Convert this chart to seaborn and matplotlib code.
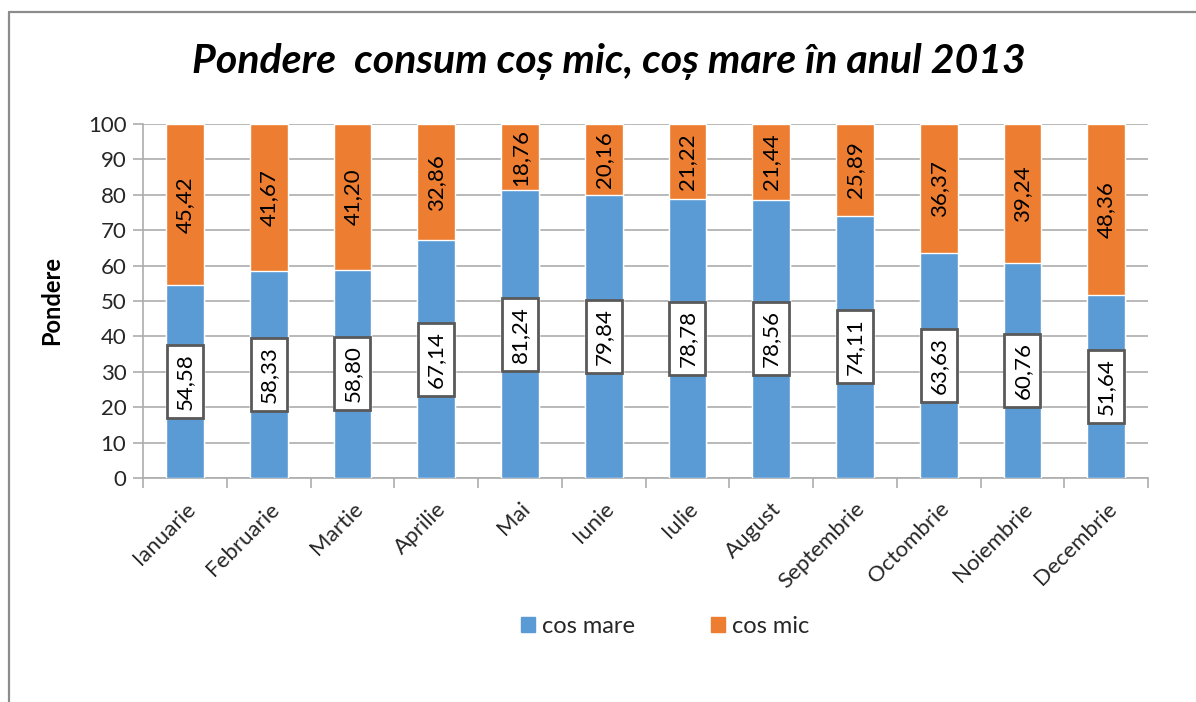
import matplotlib
matplotlib.use("Agg")
import matplotlib.pyplot as plt
from matplotlib.lines import Line2D
from matplotlib.patches import Patch
import seaborn as sns
import pandas as pd

months = ["Ianuarie", "Februarie", "Martie", "Aprilie", "Mai", "Iunie",
          "Iulie", "August", "Septembrie", "Octombrie", "Noiembrie", "Decembrie"]
cos_mare = [54.58, 58.33, 58.80, 67.14, 81.24, 79.84, 78.78, 78.56, 74.11, 63.63, 60.76, 51.64]
cos_mic = [45.42, 41.67, 41.20, 32.86, 18.76, 20.16, 21.22, 21.44, 25.89, 36.37, 39.24, 48.36]
y_ticks = [0, 10, 20, 30, 40, 50, 60, 70, 80, 90, 100]

BLUE = "#5B9BD5"
ORANGE = "#ED7D31"
GRID = "#ADADAD"
TXT = "#262626"
FS = 16

df = pd.DataFrame({"luna": months, "cos mare": cos_mare, "cos mic": cos_mic})
df["total"] = df["cos mare"] + df["cos mic"]

sns.set_theme(style="white")
plt.rcParams["font.family"] = ["Lato", "DejaVu Sans"]

fig = plt.figure(figsize=(11.96, 7.02), dpi=100)
ax = fig.add_axes([0.1196, 0.3191, 0.8403, 0.5043])

# stacked bars: full height in orange, lower part in blue
sns.barplot(data=df, x="luna", y="total", color=ORANGE, width=0.45,
            saturation=1, ax=ax, zorder=2)
sns.barplot(data=df, x="luna", y="cos mare", color=BLUE, width=0.45,
            saturation=1, ax=ax, zorder=3)

ax.set_ylim(0, 100)
ax.set_xlim(-0.5, len(months) - 0.5)
ax.set_yticks(y_ticks)
ax.set_yticklabels([str(t) for t in y_ticks], fontsize=FS, color=TXT)
ax.yaxis.grid(True, color=GRID, linewidth=1.2, zorder=0)
ax.set_axisbelow(True)

for side in ["top", "right"]:
    ax.spines[side].set_visible(False)
for side in ["left", "bottom"]:
    ax.spines[side].set_color(GRID)
    ax.spines[side].set_linewidth(1.2)

ax.tick_params(axis="y", which="major", left=True, length=7, width=1.2,
               color=GRID, pad=5)
# category ticks sit between the bars
ax.set_xticks(range(len(months)))
ax.set_xticklabels(months, rotation=45, ha="right", rotation_mode="anchor",
                   fontsize=FS, color=TXT)
ax.tick_params(axis="x", which="major", bottom=False, pad=9)
ax.set_xticks([i - 0.5 for i in range(len(months) + 1)], minor=True)
ax.tick_params(axis="x", which="minor", bottom=True, length=7, width=1.2,
               color=GRID)

ax.set_xlabel("")
ax.set_ylabel("Pondere", fontsize=FS + 1, fontweight="bold", color="black",
              labelpad=18)


def fmt(v):
    return f"{v:.2f}".replace(".", ",")


for i, (m, s) in enumerate(zip(cos_mare, cos_mic)):
    ax.text(i, m / 2, fmt(m), rotation=90, ha="center", va="center",
            fontsize=FS, color="black", zorder=5,
            bbox=dict(boxstyle="square,pad=0.36", facecolor="white",
                      edgecolor="#595959", linewidth=2))
    ax.text(i, m + s / 2, fmt(s), rotation=90, ha="center", va="center",
            fontsize=FS, color="black", zorder=5)

fig.text(0.509, 0.912, "Pondere  consum coș mic, coș mare în anul 2013",
         ha="center", va="center", fontsize=29.5, fontweight="bold",
         fontstyle="italic", color="black")

handles = [Patch(facecolor=BLUE, edgecolor=BLUE, label="cos mare"),
           Patch(facecolor=ORANGE, edgecolor=ORANGE, label="cos mic")]
fig.legend(handles=handles, loc="center", bbox_to_anchor=(0.556, 0.108),
           ncol=2, frameon=False, fontsize=FS + 1, handlelength=0.6,
           handleheight=0.6, handletextpad=0.3, columnspacing=3.2)

# outer chart frame (top and left edges)
x0, y0 = 8.5 / 1196, 1 - 11.5 / 702
fig.add_artist(Line2D([x0, 1.0], [y0, y0], transform=fig.transFigure,
                      color="#8C8C8C", linewidth=1.6))
fig.add_artist(Line2D([x0, x0], [0.0, y0], transform=fig.transFigure,
                      color="#8C8C8C", linewidth=1.6))

fig.savefig("out.png", dpi=100, facecolor="white")
